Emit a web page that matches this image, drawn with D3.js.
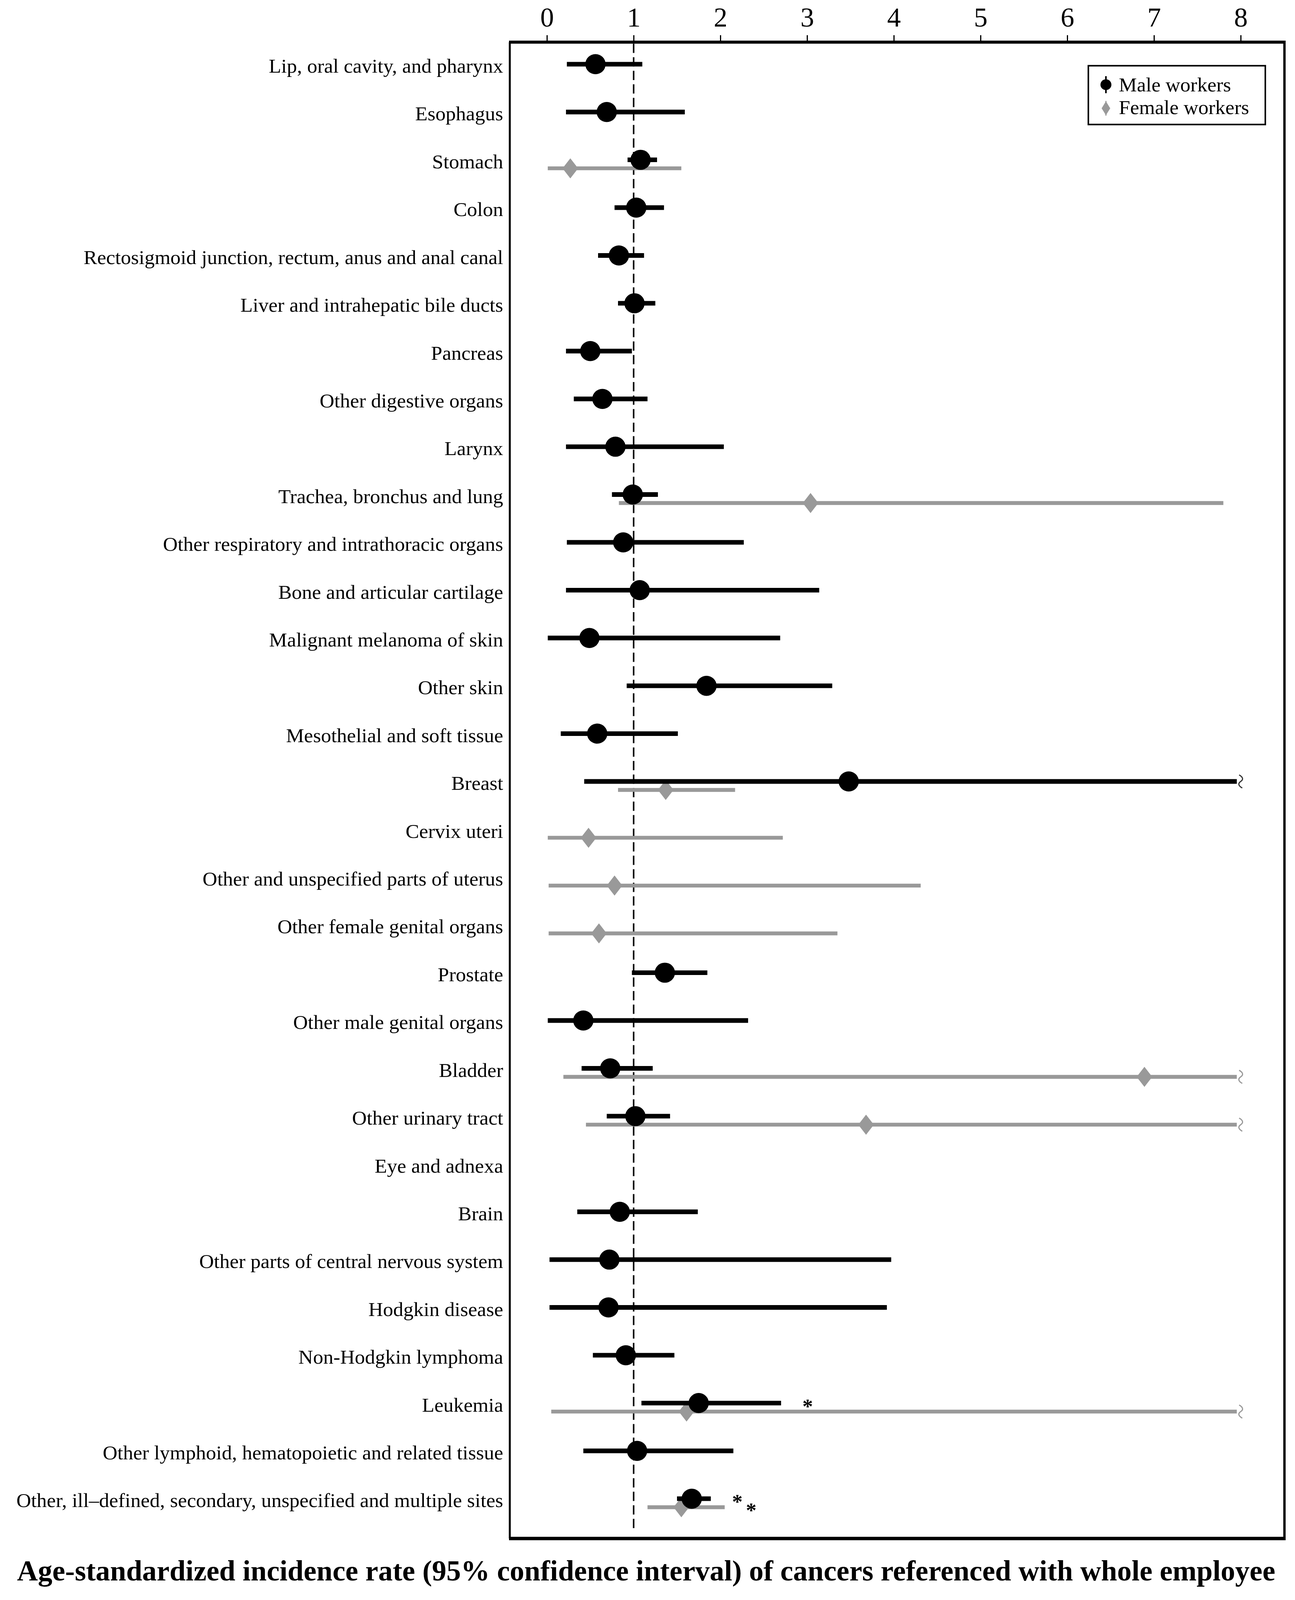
<!DOCTYPE html>
<html lang="en">
<head>
  <meta charset="UTF-8">
  <title>Age-standardized incidence rate of cancers</title>
  <script src="https://d3js.org/d3.v7.min.js"></script>
  <style>
    html, body { margin: 0; padding: 0; background: white; overflow: hidden; }
    svg { display: block; }
    svg text { font-family: "Liberation Serif", "Times New Roman", serif; }
  </style>
</head>
<body>
<script>
  // cancer sites, top to bottom
  var categories = [
    "Lip, oral cavity, and pharynx",
    "Esophagus",
    "Stomach",
    "Colon",
    "Rectosigmoid junction, rectum, anus and anal canal",
    "Liver and intrahepatic bile ducts",
    "Pancreas",
    "Other digestive organs",
    "Larynx",
    "Trachea, bronchus and lung",
    "Other respiratory and intrathoracic organs",
    "Bone and articular cartilage",
    "Malignant melanoma of skin",
    "Other skin",
    "Mesothelial and soft tissue",
    "Breast",
    "Cervix uteri",
    "Other and unspecified parts of uterus",
    "Other female genital organs",
    "Prostate",
    "Other male genital organs",
    "Bladder",
    "Other urinary tract",
    "Eye and adnexa",
    "Brain",
    "Other parts of central nervous system",
    "Hodgkin disease",
    "Non-Hodgkin lymphoma",
    "Leukemia",
    "Other lymphoid, hematopoietic and related tissue",
    "Other, ill\u2013defined, secondary, unspecified and multiple sites"
  ];

  // null = no estimate, Infinity = upper limit beyond the axis
  var maleRate = [0.56, 0.69, 1.08, 1.03, 0.83, 1.01, 0.50, 0.64, 0.79, 0.99, 0.88, 1.07, 0.49, 1.84, 0.58, 3.48,
    null, null, null, 1.36, 0.42, 0.73, 1.02, null, 0.84, 0.72, 0.71, 0.91, 1.75, 1.04, 1.67];
  var maleLow = [0.23, 0.22, 0.93, 0.78, 0.59, 0.82, 0.22, 0.31, 0.22, 0.75, 0.23, 0.22, 0.01, 0.92, 0.16, 0.43,
    null, null, null, 0.98, 0.01, 0.40, 0.69, null, 0.35, 0.03, 0.03, 0.53, 1.09, 0.42, 1.50];
  var maleHigh = [1.10, 1.59, 1.27, 1.35, 1.12, 1.25, 0.98, 1.16, 2.04, 1.28, 2.27, 3.14, 2.69, 3.29, 1.51, Infinity,
    null, null, null, 1.85, 2.32, 1.22, 1.42, null, 1.74, 3.97, 3.92, 1.47, 2.70, 2.15, 1.89];

  var femaleRate = [null, null, 0.27, null, null, null, null, null, null, 3.04, null, null, null, null, null, 1.37,
    0.48, 0.78, 0.60, null, null, 6.89, 3.68, null, null, null, null, null, 1.61, null, 1.55];
  var femaleLow = [null, null, 0.01, null, null, null, null, null, null, 0.83, null, null, null, null, null, 0.82,
    0.01, 0.02, 0.02, null, null, 0.19, 0.45, null, null, null, null, null, 0.05, null, 1.16];
  var femaleHigh = [null, null, 1.55, null, null, null, null, null, null, 7.80, null, null, null, null, null, 2.17,
    2.72, 4.31, 3.35, null, null, Infinity, Infinity, null, null, null, null, null, Infinity, null, 2.05];

  // sites marked with an asterisk
  var maleSignificant = ["Leukemia", "Other, ill\u2013defined, secondary, unspecified and multiple sites"];
  var femaleSignificant = ["Other, ill\u2013defined, secondary, unspecified and multiple sites"];

  var xTicks = [0, 1, 2, 3, 4, 5, 6, 7, 8];
  var titleText = "Age-standardized incidence rate (95% confidence interval) of cancers referenced with whole employee";

  var width = 3315, height = 4138;
  var box = { left: 1305, right: 3288, top: 109, bottom: 3979 };
  var femaleShift = 22;
  var gray = "#999999";

  // drawn in 3315x4138 units, stretched onto whatever the window really is
  var svg = d3.select("body").append("svg")
    .attr("width", window.innerWidth || width)
    .attr("height", window.innerHeight || height)
    .attr("viewBox", `0 0 ${width} ${height}`)
    .attr("preserveAspectRatio", "none");

  var x = d3.scaleLinear().domain([0, 8]).range([1400, 3176]);
  var y = d3.scalePoint().domain(categories).range([166, 3876]);

  var rows = categories.map(function(c, i) {
    return {
      name: c,
      m: maleRate[i], mLo: maleLow[i], mHi: maleHigh[i],
      f: femaleRate[i], fLo: femaleLow[i], fHi: femaleHigh[i]
    };
  });

  function hiX(v) {
    return isFinite(v) ? x(v) : x(x.domain()[1]) - 10;
  }

  // reference line at 1
  svg.append("line")
    .attr("x1", x(1)).attr("x2", x(1))
    .attr("y1", box.top + 4).attr("y2", box.bottom - 24)
    .attr("stroke", "black")
    .attr("stroke-width", 4)
    .attr("stroke-dasharray", "24 11");

  // frame
  svg.append("line").attr("x1", box.left).attr("x2", box.left).attr("y1", box.top).attr("y2", box.bottom)
    .attr("stroke", "black").attr("stroke-width", 5);
  svg.append("line").attr("x1", box.right).attr("x2", box.right).attr("y1", box.top).attr("y2", box.bottom)
    .attr("stroke", "black").attr("stroke-width", 6);
  svg.append("line").attr("x1", box.left - 2).attr("x2", box.right + 3).attr("y1", box.bottom).attr("y2", box.bottom)
    .attr("stroke", "black").attr("stroke-width", 9);

  // top axis
  var axis = svg.append("g")
    .attr("transform", `translate(0,${box.top})`)
    .call(d3.axisTop(x).tickValues(xTicks).tickSize(18).tickPadding(22).tickFormat(d3.format("d")));
  axis.select(".domain").remove();
  axis.selectAll(".tick line").attr("stroke-width", 3);
  axis.selectAll(".tick text")
    .style("font-family", "'Liberation Serif', 'Times New Roman', serif")
    .style("font-size", "70px")
    .attr("fill", "black");
  svg.append("line").attr("x1", box.left - 2).attr("x2", box.right + 3).attr("y1", box.top).attr("y2", box.top)
    .attr("stroke", "black").attr("stroke-width", 8);

  // category labels
  svg.append("g").selectAll("text")
    .data(categories)
    .enter().append("text")
    .attr("x", 1288)
    .attr("y", d => y(d) + 22)
    .attr("text-anchor", "end")
    .style("font-size", "52px")
    .text(d => d);

  function breakMark(g, px, py, color) {
    var p = d3.path();
    p.moveTo(px + 4, py - 17);
    p.bezierCurveTo(px + 16, py - 10, px + 14, py - 4, px + 8, py);
    p.bezierCurveTo(px + 2, py + 4, px, py + 10, px + 12, py + 17);
    g.append("path")
      .attr("d", p.toString())
      .attr("fill", "none")
      .attr("stroke", color)
      .attr("stroke-width", 3);
  }

  // female workers
  var female = rows.filter(d => d.f !== null);
  var fg = svg.append("g");
  fg.selectAll("line")
    .data(female)
    .enter().append("line")
    .attr("x1", d => x(d.fLo))
    .attr("x2", d => hiX(d.fHi))
    .attr("y1", d => y(d.name) + femaleShift)
    .attr("y2", d => y(d.name) + femaleShift)
    .attr("stroke", gray)
    .attr("stroke-width", 10);
  fg.selectAll("path.diamond")
    .data(female)
    .enter().append("path")
    .attr("class", "diamond")
    .attr("d", d => {
      var cx = x(d.f), cy = y(d.name) + femaleShift;
      return `M${cx},${cy - 26}L${cx + 20},${cy}L${cx},${cy + 26}L${cx - 20},${cy}Z`;
    })
    .attr("fill", gray);
  female.filter(d => !isFinite(d.fHi)).forEach(d => breakMark(fg, hiX(d.fHi) + 2, y(d.name) + femaleShift, gray));

  // male workers
  var male = rows.filter(d => d.m !== null);
  var mg = svg.append("g");
  mg.selectAll("line")
    .data(male)
    .enter().append("line")
    .attr("x1", d => x(d.mLo))
    .attr("x2", d => hiX(d.mHi))
    .attr("y1", d => y(d.name))
    .attr("y2", d => y(d.name))
    .attr("stroke", "black")
    .attr("stroke-width", 12);
  mg.selectAll("circle")
    .data(male)
    .enter().append("circle")
    .attr("cx", d => x(d.m))
    .attr("cy", d => y(d.name))
    .attr("r", 26)
    .attr("fill", "black");
  male.filter(d => !isFinite(d.mHi)).forEach(d => breakMark(mg, hiX(d.mHi) + 2, y(d.name), "#333"));

  // asterisks
  var stars = male.filter(d => maleSignificant.includes(d.name)).map(d => ({ px: x(d.mHi) + 68, py: y(d.name) }))
    .concat(female.filter(d => femaleSignificant.includes(d.name)).map(d => ({ px: x(d.fHi) + 68, py: y(d.name) + femaleShift })));
  svg.append("g").selectAll("text")
    .data(stars)
    .enter().append("text")
    .attr("x", d => d.px)
    .attr("y", d => d.py + 26)
    .attr("text-anchor", "middle")
    .style("font-size", "54px")
    .style("font-weight", "bold")
    .text("*");

  // legend
  var legend = svg.append("g");
  legend.append("rect")
    .attr("x", 2786).attr("y", 170)
    .attr("width", 453).attr("height", 152)
    .attr("fill", "white")
    .attr("stroke", "black")
    .attr("stroke-width", 4);
  legend.append("line")
    .attr("x1", 2831).attr("x2", 2831).attr("y1", 197).attr("y2", 241)
    .attr("stroke", "black").attr("stroke-width", 4);
  legend.append("circle")
    .attr("cx", 2831).attr("cy", 219).attr("r", 14)
    .attr("fill", "black");
  legend.append("line")
    .attr("x1", 2831).attr("x2", 2831).attr("y1", 261).attr("y2", 299)
    .attr("stroke", gray).attr("stroke-width", 3);
  legend.append("path")
    .attr("d", "M2831,262L2842,280L2831,298L2820,280Z")
    .attr("fill", gray);
  legend.append("text")
    .attr("x", 2864).attr("y", 236)
    .style("font-size", "52px")
    .text("Male workers");
  legend.append("text")
    .attr("x", 2864).attr("y", 295)
    .style("font-size", "52px")
    .text("Female workers");

  // title below the chart
  svg.append("text")
    .attr("x", 1654)
    .attr("y", 4088)
    .attr("text-anchor", "middle")
    .style("font-size", "74px")
    .style("font-weight", "bold")
    .text(titleText);
</script>
</body>
</html>
